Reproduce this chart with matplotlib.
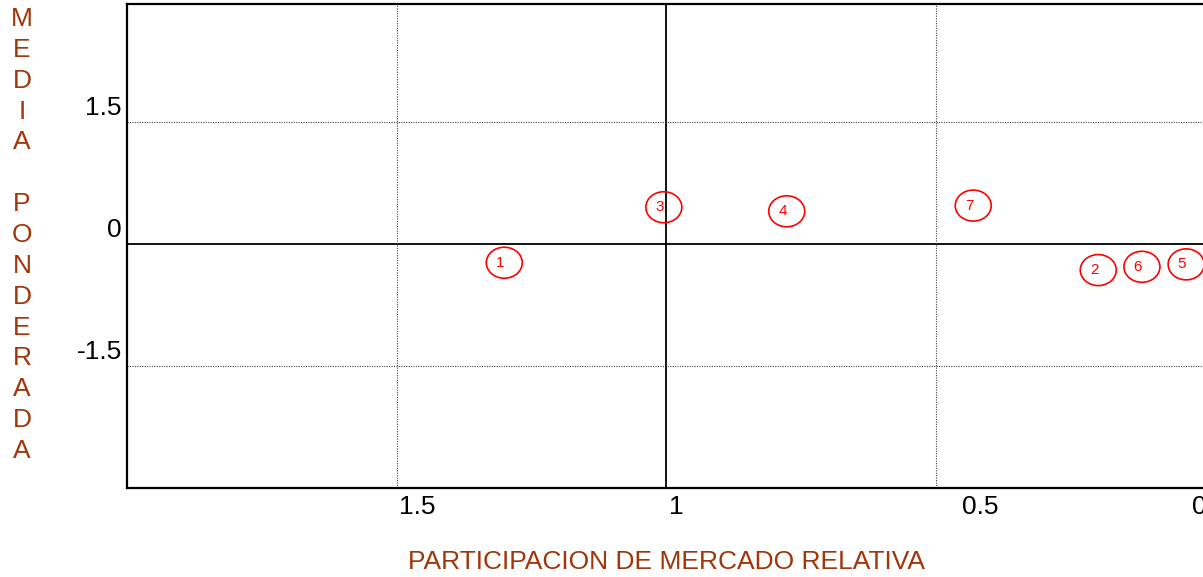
import matplotlib.pyplot as plt
from matplotlib.patches import Ellipse
from matplotlib.transforms import offset_copy

plt.rcParams['font.family'] = ['Liberation Sans', 'DejaVu Sans']

# productos: participacion de mercado relativa vs media ponderada
ids = ['1', '2', '3', '4', '5', '6', '7']
part_rel = [1.30, 0.198, 1.004, 0.776, 0.035, 0.117, 0.430]
media_pond = [-0.23, -0.32, 0.45, 0.40, -0.25, -0.28, 0.47]

x_ticks = [1.5, 1, 0.5, 0]
x_tick_labels = ['1.5', '1', '0.5', '0']
y_ticks = [1.5, 0, -1.5]
y_tick_labels = ['1.5', '0', '-1.5']

brown = '#A0360A'

fig = plt.figure(figsize=(12.03, 5.77), dpi=100)
ax = fig.add_axes([127 / 1203, 89 / 577, 1078 / 1203, 484 / 577])
ax.set_xlim(2, 0)
ax.set_ylim(-2.99, 2.94)

# cuadrantes
ax.axvline(1, color='black', linewidth=1.3, zorder=1)
ax.axhline(0, color='black', linewidth=1.3, zorder=1)
for v in (1.5, 0.5):
    ax.axvline(v, color='#444444', linewidth=0.8, linestyle=(0, (1, 1.2)), zorder=1)
for v in (1.5, -1.5):
    ax.axhline(v, color='#444444', linewidth=0.8, linestyle=(0, (1, 1.2)), zorder=1)

for s in ('left', 'bottom', 'top'):
    ax.spines[s].set_linewidth(1.6)
ax.spines['right'].set_visible(False)
ax.set_xticks([])
ax.set_yticks([])

# etiquetas de los ejes, desplazadas como en el original
x_shift = [21, 10, 45, -6]
for v, lab, dx in zip(x_ticks, x_tick_labels, x_shift):
    tr = offset_copy(ax.get_xaxis_transform(), fig=fig, x=dx, y=-7, units='dots')
    ax.text(v, 0, lab, transform=tr, ha='center', va='top', fontsize=19, clip_on=False)
for v, lab in zip(y_ticks, y_tick_labels):
    tr = offset_copy(ax.get_yaxis_transform(), fig=fig, x=-5, y=14, units='dots')
    ax.text(0, v, lab, transform=tr, ha='right', va='center', fontsize=19, clip_on=False)

# burbujas
w = 36 / 539
h = 31 / (484 / 5.93)
for name, x, y in zip(ids, part_rel, media_pond):
    ax.add_patch(Ellipse((x, y), w, h, facecolor='none', edgecolor='red',
                         linewidth=1.2, zorder=3, clip_on=False))
    ax.annotate(name, (x, y), xytext=(-3, 0), textcoords='offset points',
                ha='center', va='center', color='red', fontsize=11, zorder=4)

fig.text(666 / 1203, 1 - 562 / 577, 'PARTICIPACION DE MERCADO RELATIVA',
         color=brown, fontsize=19, ha='center', va='center')
fig.text(22 / 1203, 1 - 235 / 577, '\n'.join('MEDIA PONDERADA'),
         color=brown, fontsize=19, ha='center', va='center', linespacing=1.36)

fig.savefig('out.png', dpi=100)
